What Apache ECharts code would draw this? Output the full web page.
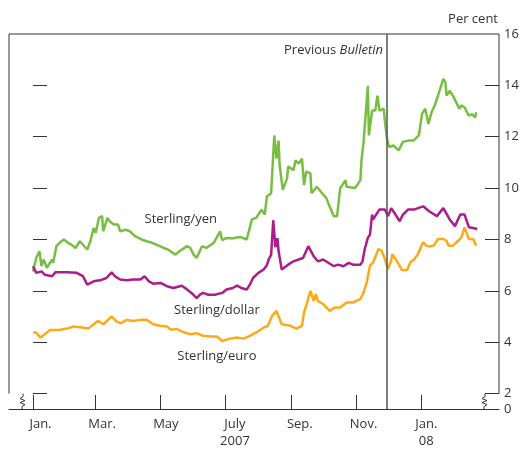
<!DOCTYPE html>
<html>
<head>
<meta charset="utf-8">
<script src="https://cdn.jsdelivr.net/npm/echarts@6.0.0/dist/echarts.min.js"></script>
<style>
html, body { margin: 0; padding: 0; background: #fff; }
#chart { width: 524px; height: 450px; }
</style>
</head>
<body>
<div id="chart"></div>
<script>
// x values are days counted from 1 Jan. 2007
var yenDays = [0,3,6,8,10,13,18,19,22,25,29,33,36,40,44,51,54,57,59,62,65,66,70,72,76,80,82,87,91,96,
	102,107,112,116,123,127,134,138,145,148,151,154,159,163,170,176,178,182,188,195,201,206,210,215,218,220,224,227,229,231,
	232,235,239,240,245,247,250,253,255,257,261,262,267,272,276,279,283,286,289,294,295,303,308,309,311,315,316,319,322,324,
	326,330,331,333,335,339,344,348,353,358,363,366,369,372,375,378,381,386,388,389,392,395,399,401,403,406,410,413,416,417];
var yenVals = [6.75,7.28,7.54,6.96,7.22,6.90,7.22,7.09,7.74,7.87,8.0,7.87,7.80,7.67,7.93,7.61,7.93,8.45,8.26,8.84,
	8.91,8.32,8.84,8.71,8.58,8.58,8.32,8.38,8.32,8.13,8.0,7.93,7.87,7.80,7.67,7.61,7.41,7.55,7.74,7.67,
	7.41,7.28,7.74,7.67,7.87,8.32,7.97,8.06,8.05,8.10,8.0,8.78,8.84,9.16,8.97,9.67,9.80,12.05,11.15,11.85,
	10.9,9.93,10.38,10.84,10.7,11.08,10.95,11.15,10.12,10.64,10.57,9.8,10.05,9.8,9.61,9.29,8.9,8.9,10.0,10.31,
	10.05,10.0,10.31,11.08,11.8,13.98,12.05,13.02,13.02,13.6,13.02,13.09,12.63,11.92,11.6,11.66,11.47,11.8,11.85,11.85,
	12.05,12.89,13.09,12.5,12.96,13.22,13.6,14.25,14.12,13.6,13.79,13.6,13.27,13.09,13.22,13.14,12.82,12.88,12.75,12.95];

var dollarDays = [0,3,8,11,18,21,32,41,47,51,57,63,69,74,77,82,88,94,101,105,109,113,120,126,132,140,145,149,154,157,
	160,165,171,178,182,188,192,196,201,204,207,212,217,220,222,224,226,228,230,231,234,240,245,250,254,259,264,268,273,283,
	287,292,297,301,308,310,312,315,317,319,320,326,331,334,337,341,345,348,353,359,367,373,380,386,392,397,402,406,410,414,418];
var dollarVals = [6.96,6.70,6.76,6.63,6.57,6.72,6.72,6.70,6.57,6.24,6.37,6.41,6.50,6.72,6.57,6.44,6.41,6.44,6.44,6.57,
	6.37,6.28,6.31,6.18,6.11,6.20,6.05,5.92,5.72,5.85,5.92,5.85,5.85,5.92,6.05,6.11,6.20,6.11,6.05,6.24,
	6.50,6.70,6.83,7.0,7.25,7.40,8.75,7.70,8.05,7.55,6.83,7.02,7.15,7.22,7.28,7.74,7.35,7.15,7.22,6.96,
	7.02,6.96,7.09,7.02,7.02,7.15,7.61,8.06,8.19,8.97,8.78,9.17,9.17,8.91,9.22,8.97,8.71,8.97,9.17,9.17,
	9.29,9.09,8.91,9.22,8.78,8.52,8.97,8.97,8.48,8.45,8.41];

var euroDays = [0,3,7,11,16,24,32,38,46,52,57,61,66,71,74,79,83,88,94,101,107,113,119,126,130,135,141,148,154,160,
	167,173,178,185,192,198,204,210,217,221,225,229,232,234,242,248,253,255,257,261,264,266,268,273,279,284,289,295,301,308,
	311,314,317,320,325,328,331,334,337,338,341,344,347,352,355,359,362,367,370,373,377,381,386,389,391,395,400,403,406,410,414,417];
var euroVals = [4.38,4.38,4.18,4.31,4.48,4.48,4.53,4.61,4.57,4.53,4.70,4.83,4.70,4.89,5.0,4.79,4.74,4.87,4.83,4.87,
	4.87,4.70,4.64,4.61,4.48,4.52,4.40,4.31,4.35,4.25,4.22,4.22,4.05,4.14,4.18,4.14,4.25,4.38,4.57,4.64,
	5.03,5.22,4.90,4.70,4.64,4.53,4.64,5.16,5.42,6.0,5.61,5.87,5.61,5.48,5.22,5.35,5.35,5.55,5.55,5.68,
	5.94,6.33,6.98,7.11,7.63,7.56,7.24,6.85,7.17,7.43,7.24,7.04,6.81,6.81,7.11,7.24,7.43,7.89,7.76,7.73,
	7.76,8.02,8.02,7.95,7.76,7.76,7.95,8.08,8.47,8.02,8.02,7.76];

var monthTickDays = [0,59,120,181,243,304,365];
var monthLabelDays = [7,65,125,190,251,311,370];
var monthLabels = ['Jan.','Mar.','May','July\n2007','Sep.','Nov.','Jan.\n08'];
var yTickValues = [2,4,6,8,10,12,14];
var yLabelValues = [1.4,2,4,6,8,10,12,14,16];
var yLabels = ['0','2','4','6','8','10','12','14','16'];
var bulletinDay = 333;

var font = 'Open Sans';
var txt = '#333';

function pairs(days, vals){
	return days.map(function(d, i){ return [d, vals[i]]; });
}

var chart = echarts.init(document.getElementById('chart'));

function yAxisCfg(pos, showLabel){
	return {
		type: 'value',
		position: pos,
		min: 1.4,
		max: 16,
		axisLine: {show: false},
		splitLine: {show: false},
		axisTick: {show: true, inside: true, length: 14, customValues: yTickValues, lineStyle: {color: txt, width: 1}},
		axisLabel: {
			show: showLabel,
			customValues: yLabelValues,
			formatter: function(v){ return yLabels[yLabelValues.indexOf(v)]; },
			color: txt, fontFamily: font, fontSize: 13, margin: 5
		}
	};
}

var option = {
	animation: false,
	grid: {left: 9, right: 25, top: 34, bottom: 38},
	xAxis: {
		type: 'value',
		min: -22.6,
		max: 438.4,
		splitLine: {show: false},
		axisLine: {show: true, lineStyle: {color: txt, width: 1}},
		axisTick: {show: true, inside: true, length: 14, customValues: monthTickDays, lineStyle: {color: txt, width: 1}},
		axisLabel: {
			customValues: monthLabelDays,
			formatter: function(v){ return monthLabels[monthLabelDays.indexOf(v)]; },
			color: txt, fontFamily: font, fontSize: 13, lineHeight: 17, margin: 7
		}
	},
	yAxis: [yAxisCfg('left', false), yAxisCfg('right', true)],
	series: [
		{
			name: 'Sterling/yen', type: 'line', data: pairs(yenDays, yenVals),
			showSymbol: false, lineStyle: {color: '#78be43', width: 2.5},
			markLine: {
				silent: true, symbol: 'none', label: {show: false},
				lineStyle: {color: '#555', width: 1.5, type: 'solid'},
				data: [{xAxis: bulletinDay}]
			}
		},
		{
			name: 'Sterling/dollar', type: 'line', data: pairs(dollarDays, dollarVals),
			showSymbol: false, lineStyle: {color: '#ab1c8c', width: 2.5}
		},
		{
			name: 'Sterling/euro', type: 'line', data: pairs(euroDays, euroVals),
			showSymbol: false, lineStyle: {color: '#fbaa19', width: 2.5}
		}
	]
};
chart.setOption(option);

// frame, axis breaks and text labels
function px(d, v){ return chart.convertToPixel({xAxisIndex: 0, yAxisIndex: 0}, [d, v]); }
var tl = px(-22.6, 16), br = px(438.4, 1.4), at2 = px(0, 2);
var xl = tl[0], xr = br[0], yTop = tl[1], yBot = br[1], y2 = at2[1];

function zigzag(x){
	return [[x, y2], [x, y2 + 3], [x - 3, y2 + 5], [x + 2, y2 + 7], [x - 3, y2 + 9], [x + 2, y2 + 11], [x - 1, y2 + 13], [x - 1, yBot]];
}
function label(d, v, text){
	var p = px(d, v);
	return {type: 'text', x: p[0], y: p[1], style: {text: text, fill: txt, font: '13px "' + font + '"', align: 'center', verticalAlign: 'middle'}};
}
var bl = px(bulletinDay, 16);

chart.setOption({
	graphic: [
		{type: 'polyline', shape: {points: [[xl, y2], [xl, yTop], [xr, yTop], [xr, y2]]}, style: {stroke: txt, lineWidth: 1, fill: null}},
		{type: 'polyline', shape: {points: zigzag(xl + 14)}, style: {stroke: txt, lineWidth: 1, fill: null}},
		{type: 'polyline', shape: {points: zigzag(xr - 14)}, style: {stroke: txt, lineWidth: 1, fill: null}},
		{type: 'text', x: xr - 1, y: yTop - 15, style: {text: 'Per cent', fill: txt, font: '13px "' + font + '"', align: 'right', verticalAlign: 'middle'}},
		{type: 'text', x: bl[0] - 4, y: yTop + 16, style: {
			text: 'Previous {i|Bulletin}', fill: txt, font: '13px "' + font + '"', align: 'right', verticalAlign: 'middle',
			rich: {i: {fontStyle: 'italic', fontFamily: font, fontSize: 13, fill: txt}}
		}},
		label(139, 8.79, 'Sterling/yen'),
		label(173, 5.24, 'Sterling/dollar'),
		label(173, 3.46, 'Sterling/euro')
	]
});
</script>
</body>
</html>
